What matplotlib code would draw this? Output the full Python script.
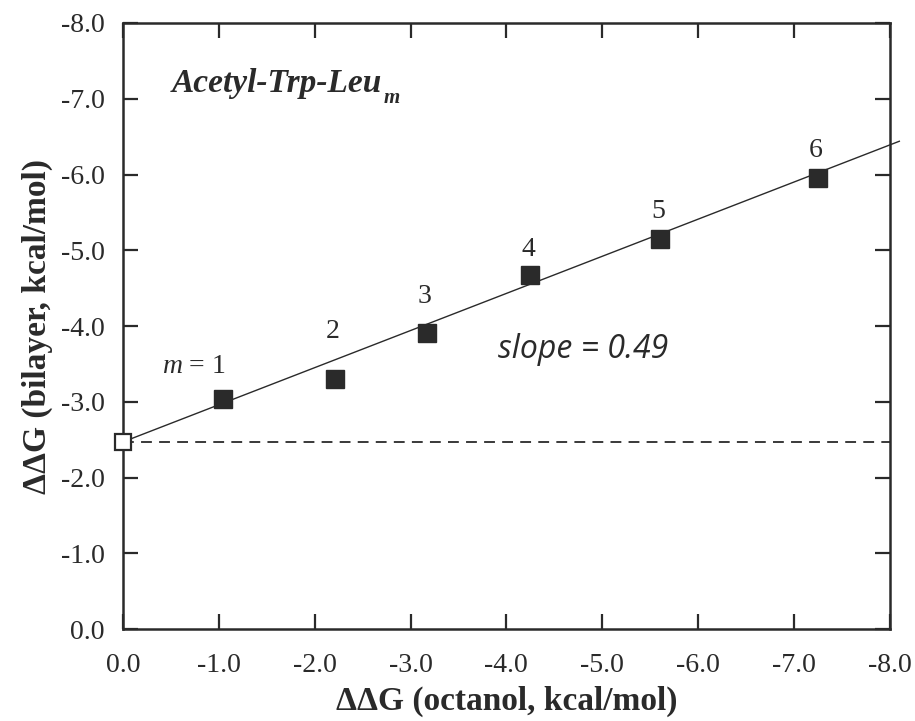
import matplotlib
matplotlib.use("Agg")
import numpy as np
import matplotlib.pyplot as plt

# ─── Datos ────────────────────────────────────────────────────────────────────
m_vals     = [1, 2, 3, 4, 5, 6]
dg_octanol = [-1.04, -2.21, -3.17, -4.25, -5.60, -7.25]
dg_bilayer = [-3.03, -3.30, -3.91, -4.67, -5.15, -5.95]
intercept  = -2.47
slope      = 0.49
x_ticks    = [0, -1, -2, -3, -4, -5, -6, -7, -8]
y_ticks    = [0, -1, -2, -3, -4, -5, -6, -7, -8]

# desplazamiento vertical de las etiquetas m (unidades de datos)
label_dy = [0.35, 0.54, 0.39, 0.25, 0.28, 0.28]

INK   = "#2a2a2a"
SERIF = "Liberation Serif"
plt.rcParams["mathtext.fontset"] = "custom"
plt.rcParams["mathtext.it"] = "Liberation Serif:italic"
plt.rcParams["mathtext.rm"] = "Liberation Serif"

fig = plt.figure(figsize=(9.15, 7.21), dpi=100)
ax = fig.add_axes([0.1344, 0.1276, 0.838, 0.8405])

# Línea de ajuste y línea de referencia
xf = np.array([0.0, -8.1])
ax.plot(xf, intercept + slope * xf, color=INK, lw=1.0, clip_on=False, zorder=2)
ax.axhline(intercept, color=INK, lw=1.3, ls=(0, (6, 4)), zorder=1)

ax.plot(dg_octanol, dg_bilayer, "s", color=INK, ms=12.5, zorder=3)
ax.plot([0], [intercept], "s", mfc="white", mec=INK, mew=1.6, ms=11,
        clip_on=False, zorder=4)

# Etiquetas m
for i, (x, y, m) in enumerate(zip(dg_octanol, dg_bilayer, m_vals)):
    if i == 0:
        ax.text(x + 0.63, y - label_dy[i], "$m$ = 1", family=SERIF, fontsize=20,
                ha="left", va="baseline", color=INK)
    else:
        ax.text(x + 0.02, y - label_dy[i], str(m), family=SERIF, fontsize=20,
                ha="center", va="baseline", color=INK)

title = ax.text(-0.51, -7.09, "Acetyl-Trp-Leu", family=SERIF, fontsize=24,
                fontweight="bold", style="italic", va="baseline", color=INK)
ax.annotate("m", xy=(1, 0), xycoords=title, xytext=(1, -3),
            textcoords="offset points", family=SERIF, fontsize=15,
            fontweight="bold", style="italic", va="baseline", color=INK)
ax.text(-3.91, -3.58, "slope = 0.49", family="Open Sans", fontsize=23,
        style="italic", ha="left", va="baseline", color=INK)

# Ejes
ax.set_xlim(0, -8)
ax.set_ylim(0, -8)
ax.set_xticks(x_ticks)
ax.set_yticks(y_ticks)
ax.set_xticklabels([f"{v:.1f}" if v != 0 else "0.0" for v in x_ticks],
                   family=SERIF, fontsize=20, color=INK)
ax.set_yticklabels([f"{v:.1f}" if v != 0 else "0.0" for v in y_ticks],
                   family=SERIF, fontsize=20, color=INK)
ax.tick_params(which="both", direction="in", length=11, width=1.6,
               top=True, right=True, color=INK)
ax.tick_params(axis="x", pad=17)
ax.tick_params(axis="y", pad=13)
for s in ax.spines.values():
    s.set_linewidth(1.8)
    s.set_color(INK)

ax.set_xlabel("ΔΔG (octanol, kcal/mol)", family=SERIF, fontsize=24,
              fontweight="bold", color=INK, labelpad=6)
ax.set_ylabel("ΔΔG (bilayer, kcal/mol)", family=SERIF, fontsize=24,
              fontweight="bold", color=INK, labelpad=6)

fig.savefig("out.png", dpi=100, facecolor="white")
